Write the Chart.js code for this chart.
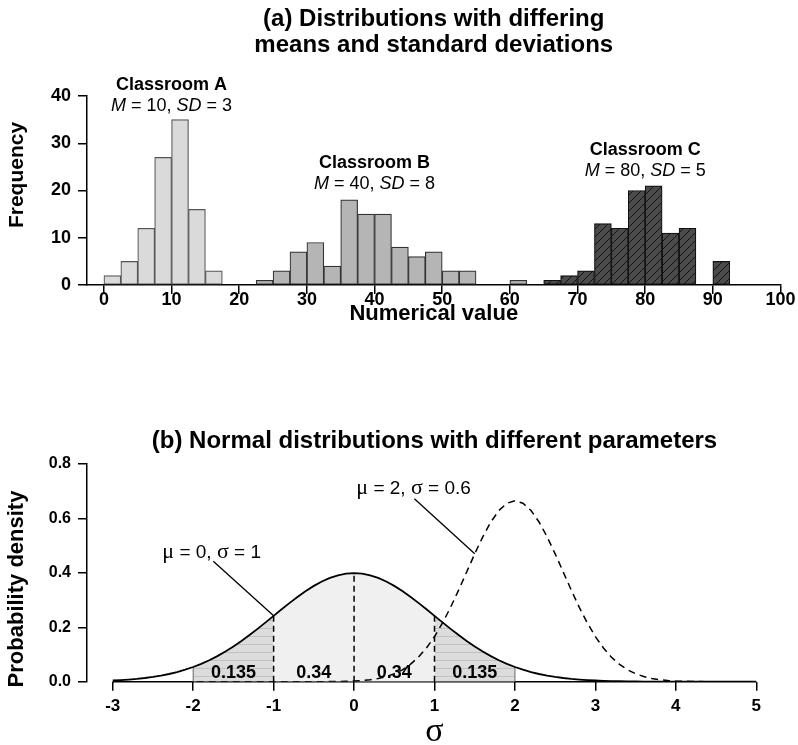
<!DOCTYPE html>
<html>
<head>
<meta charset="utf-8">
<script src="https://cdn.jsdelivr.net/npm/chart.js@4.4.1/dist/chart.umd.min.js"></script>
<style>
  html, body { margin: 0; padding: 0; background: #fff; }
  canvas { display: block; }
</style>
</head>
<body>
<canvas id="histChart" width="798" height="372"></canvas>
<canvas id="normalChart" width="798" height="373"></canvas>
<script>
// ---- (a) histograms: 2.5-wide bins from 0 to 100 ----
const binStarts = [
  0, 2.5, 5, 7.5, 10, 12.5, 15, 17.5, 20, 22.5,
  25, 27.5, 30, 32.5, 35, 37.5, 40, 42.5, 45, 47.5,
  50, 52.5, 55, 57.5, 60, 62.5, 65, 67.5, 70, 72.5,
  75, 77.5, 80, 82.5, 85, 87.5, 90, 92.5, 95, 97.5
];
const countsA = [
  2, 5, 12, 27, 35, 16, 3, 0, 0, 0,
  0, 0, 0, 0, 0, 0, 0, 0, 0, 0,
  0, 0, 0, 0, 0, 0, 0, 0, 0, 0,
  0, 0, 0, 0, 0, 0, 0, 0, 0, 0
];
const countsB = [
  0, 0, 0, 0, 0, 0, 0, 0, 0, 1,
  3, 7, 9, 4, 18, 15, 15, 8, 6, 7,
  3, 3, 0, 0, 1, 0, 0, 0, 0, 0,
  0, 0, 0, 0, 0, 0, 0, 0, 0, 0
];
const countsC = [
  0, 0, 0, 0, 0, 0, 0, 0, 0, 0,
  0, 0, 0, 0, 0, 0, 0, 0, 0, 0,
  0, 0, 0, 0, 0, 0, 1, 2, 3, 13,
  12, 20, 21, 11, 12, 0, 5, 0, 0, 0
];
const classNames = ['Classroom A', 'Classroom B', 'Classroom C'];
const classMeans = [10, 40, 80];
const classSDs = [3, 8, 5];
const classLabelY = [41.3, 24.8, 27.5];
const histXTicks = [0, 10, 20, 30, 40, 50, 60, 70, 80, 90, 100];
const histYTicks = [0, 10, 20, 30, 40];

// ---- (b) normal densities, sampled every 0.1 from -3 to 5 ----
const sigmaX = [
  -3, -2.9, -2.8, -2.7, -2.6, -2.5, -2.4, -2.3, -2.2, -2.1,
  -2, -1.9, -1.8, -1.7, -1.6, -1.5, -1.4, -1.3, -1.2, -1.1,
  -1, -0.9, -0.8, -0.7, -0.6, -0.5, -0.4, -0.3, -0.2, -0.1,
  0, 0.1, 0.2, 0.3, 0.4, 0.5, 0.6, 0.7, 0.8, 0.9,
  1, 1.1, 1.2, 1.3, 1.4, 1.5, 1.6, 1.7, 1.8, 1.9,
  2, 2.1, 2.2, 2.3, 2.4, 2.5, 2.6, 2.7, 2.8, 2.9,
  3, 3.1, 3.2, 3.3, 3.4, 3.5, 3.6, 3.7, 3.8, 3.9,
  4, 4.1, 4.2, 4.3, 4.4, 4.5, 4.6, 4.7, 4.8, 4.9,
  5
];
// mu = 0, sigma = 1
const densityStd = [
  0.0044, 0.0060, 0.0079, 0.0104, 0.0136, 0.0175, 0.0224, 0.0283, 0.0355, 0.0440,
  0.0540, 0.0656, 0.0790, 0.0940, 0.1109, 0.1295, 0.1497, 0.1714, 0.1942, 0.2179,
  0.2420, 0.2661, 0.2897, 0.3123, 0.3332, 0.3521, 0.3683, 0.3814, 0.3910, 0.3970,
  0.3989, 0.3970, 0.3910, 0.3814, 0.3683, 0.3521, 0.3332, 0.3123, 0.2897, 0.2661,
  0.2420, 0.2179, 0.1942, 0.1714, 0.1497, 0.1295, 0.1109, 0.0940, 0.0790, 0.0656,
  0.0540, 0.0440, 0.0355, 0.0283, 0.0224, 0.0175, 0.0136, 0.0104, 0.0079, 0.0060,
  0.0044, 0.0033, 0.0024, 0.0017, 0.0012, 0.0009, 0.0006, 0.0004, 0.0003, 0.0002,
  0.0001, 0.0001, 0, 0, 0, 0, 0, 0, 0, 0,
  0
];
// mu = 2, sigma = 0.6
const densityNarrow = [
  0, 0, 0, 0, 0, 0, 0, 0, 0, 0,
  0, 0, 0, 0, 0, 0, 0, 0, 0, 0,
  0, 0, 0, 0, 0, 0.0001, 0.0002, 0.0004, 0.0008, 0.0015,
  0.0026, 0.0044, 0.0074, 0.0120, 0.0190, 0.0292, 0.0437, 0.0636, 0.0900, 0.1239,
  0.1658, 0.2159, 0.2733, 0.3366, 0.4033, 0.4699, 0.5324, 0.5868, 0.6290, 0.6557,
  0.6649, 0.6557, 0.6290, 0.5868, 0.5324, 0.4699, 0.4033, 0.3366, 0.2733, 0.2159,
  0.1658, 0.1239, 0.0900, 0.0636, 0.0437, 0.0292, 0.0190, 0.0120, 0.0074, 0.0044,
  0.0026, 0.0015, 0.0008, 0.0004, 0.0002, 0.0001, 0, 0, 0, 0,
  0
];
const areaShares = ['0.135', '0.34', '0.34', '0.135'];
const areaCentres = [-1.5, -0.5, 0.5, 1.5];
const normalXTicks = [-3, -2, -1, 0, 1, 2, 3, 4, 5];
const normalYTicks = [0, 0.2, 0.4, 0.6, 0.8];
// curve captions: [mu, sigma], text anchor, leader start, x where the leader meets its curve
const curveNotes = [
  { mu: '0', sd: '1',   at: [-1.77, 0.455], from: [-1.75, 0.443], toX: -1,  curve: densityStd },
  { mu: '2', sd: '0.6', at: [0.74, 0.690],  from: [0.75, 0.672],  toX: 1.5, curve: densityNarrow }
];

const SANS = '"Liberation Sans", Arial, Helvetica, sans-serif';
const SERIF = '"Liberation Serif", "DejaVu Serif", serif';
Chart.defaults.color = '#000';
Chart.defaults.font.family = SANS;

function makePattern(bg, line, draw) {
  const c = document.createElement('canvas');
  c.width = 8; c.height = 8;
  const g = c.getContext('2d');
  g.fillStyle = bg;
  g.fillRect(0, 0, 8, 8);
  g.strokeStyle = line;
  g.lineWidth = 1;
  draw(g);
  return g.createPattern(c, 'repeat');
}

// draw a line of mixed-font text centred on cx
function drawRuns(ctx, runs, cx, baseline) {
  const widths = runs.map(r => { ctx.font = r.font; return ctx.measureText(r.text).width; });
  let x = cx - widths.reduce((a, b) => a + b, 0) / 2;
  ctx.textAlign = 'left';
  runs.forEach((r, i) => { ctx.font = r.font; ctx.fillText(r.text, x, baseline); x += widths[i]; });
}

function axisStyle(fontSize) {
  return {
    offset: false,
    grid: { offset: false, drawOnChartArea: false, drawTicks: true, tickLength: 9, color: '#000', lineWidth: 1.5 },
    border: { display: true, color: '#000', width: 1.5 },
    ticks: { color: '#000', font: { size: fontSize, weight: 'bold' }, maxRotation: 0, autoSkip: false }
  };
}

// ---------- (a) ----------
const diagHatch = makePattern('#4b4b4b', '#111', g => {
  g.beginPath();
  g.moveTo(-1, 9); g.lineTo(9, -1);
  g.moveTo(-1, 1); g.lineTo(1, -1);
  g.moveTo(7, 9); g.lineTo(9, 7);
  g.stroke();
});

function binPoints(counts) {
  return binStarts.map((s, i) => ({ x: s + 1.25, y: counts[i] })).filter(p => p.y > 0);
}

const histLabels = {
  id: 'histLabels',
  afterDraw(chart) {
    const { ctx, chartArea, scales: { x, y } } = chart;
    const cx = (chartArea.left + chartArea.right) / 2;
    ctx.save();
    ctx.fillStyle = '#000';
    ctx.textBaseline = 'alphabetic';
    ctx.textAlign = 'center';
    ctx.font = 'bold 24px ' + SANS;
    ctx.fillText('(a) Distributions with differing', cx, 26);
    ctx.fillText('means and standard deviations', cx, 52);

    ctx.font = 'bold 22px ' + SANS;
    ctx.fillText('Numerical value', cx, 320);
    ctx.save();
    ctx.translate(23, 175);
    ctx.rotate(-Math.PI / 2);
    ctx.font = 'bold 21px ' + SANS;
    ctx.fillText('Frequency', 0, 0);
    ctx.restore();

    classNames.forEach((name, i) => {
      const px = x.getPixelForValue(classMeans[i]);
      const py = y.getPixelForValue(classLabelY[i]);
      ctx.textAlign = 'center';
      ctx.font = 'bold 18px ' + SANS;
      ctx.fillText(name, px, py);
      const it = 'italic 18px ' + SANS, up = '18px ' + SANS;
      drawRuns(ctx, [
        { text: 'M', font: it },
        { text: ' = ' + classMeans[i] + ', ', font: up },
        { text: 'SD', font: it },
        { text: ' = ' + classSDs[i], font: up }
      ], px, py + 21);
    });
    ctx.restore();
  }
};

const histX = axisStyle(18);
const histY = axisStyle(18);
histX.ticks.padding = -5;
histY.ticks.padding = 7;

new Chart(document.getElementById('histChart'), {
  type: 'bar',
  data: {
    datasets: [
      { label: classNames[0], data: binPoints(countsA), backgroundColor: '#dadada', borderColor: '#555', borderWidth: 1.2 },
      { label: classNames[1], data: binPoints(countsB), backgroundColor: '#b5b5b5', borderColor: '#333', borderWidth: 1.2 },
      { label: classNames[2], data: binPoints(countsC), backgroundColor: diagHatch, borderColor: '#111', borderWidth: 1.2 }
    ]
  },
  options: {
    responsive: false,
    animation: false,
    devicePixelRatio: 1,
    events: [],
    layout: { padding: { top: 96, right: 17.5, left: 0, bottom: 0 } },
    datasets: { bar: { grouped: false, barPercentage: 1, categoryPercentage: 1, borderSkipped: false } },
    plugins: { legend: { display: false }, tooltip: { enabled: false } },
    scales: {
      x: Object.assign(histX, {
        type: 'linear', min: -2.5, max: 100,
        afterBuildTicks: s => { s.ticks = histXTicks.map(v => ({ value: v })); },
        afterFit: s => { s.height = 87; }
      }),
      y: Object.assign(histY, {
        min: 0, max: 40,
        afterBuildTicks: s => { s.ticks = histYTicks.map(v => ({ value: v })); },
        afterFit: s => { s.width = 87; }
      })
    }
  },
  plugins: [histLabels]
});

// ---------- (b) ----------
const stripes = makePattern('#dcdcdc', '#c2c2c2', g => {
  g.beginPath();
  g.moveTo(0, 0.5); g.lineTo(8, 0.5);
  g.stroke();
});

const idx = v => sigmaX.indexOf(v);
const segment = (ys, from, to) => sigmaX.slice(idx(from), idx(to) + 1).map((x, k) => ({ x, y: ys[idx(from) + k] }));
const drop = (xv, ys) => [{ x: xv, y: 0 }, { x: xv, y: ys[idx(xv)] }];
const none = 'rgba(0,0,0,0)';

const normalDatasets = [
  { data: segment(densityStd, -1, 1), fill: 'origin', backgroundColor: '#f0f0f0', borderColor: none, order: 10 },
  { data: segment(densityStd, -2, -1), fill: 'origin', backgroundColor: stripes, borderColor: none, order: 10 },
  { data: segment(densityStd, 1, 2), fill: 'origin', backgroundColor: stripes, borderColor: none, order: 10 },
  { data: drop(-2, densityStd), borderColor: '#666', borderWidth: 1, order: 6 },
  { data: drop(2, densityStd), borderColor: '#666', borderWidth: 1, order: 6 },
  { data: drop(-1, densityStd), borderColor: '#000', borderWidth: 1.5, borderDash: [6, 4], order: 5 },
  { data: drop(0, densityStd), borderColor: '#000', borderWidth: 1.5, borderDash: [6, 4], order: 5 },
  { data: drop(1, densityStd), borderColor: '#000', borderWidth: 1.5, borderDash: [6, 4], order: 5 }
];
curveNotes.forEach(n => {
  normalDatasets.push({
    data: [{ x: n.from[0], y: n.from[1] }, { x: n.toX, y: n.curve[idx(n.toX)] }],
    borderColor: '#000', borderWidth: 1.3, order: 4
  });
});
normalDatasets.push(
  { data: segment(densityStd, -3, 5), borderColor: '#000', borderWidth: 1.8, order: 1 },
  { data: segment(densityNarrow, -3, 5), borderColor: '#000', borderWidth: 1.5, borderDash: [7, 5], order: 0 }
);

const normalLabels = {
  id: 'normalLabels',
  beforeDatasetsDraw(chart) {
    const { ctx, scales: { x, y } } = chart;
    ctx.save();
    ctx.strokeStyle = '#000';
    ctx.lineWidth = 1.5;
    ctx.beginPath();
    ctx.moveTo(x.getPixelForValue(normalXTicks[0]), y.getPixelForValue(0));
    ctx.lineTo(x.getPixelForValue(normalXTicks[normalXTicks.length - 1]), y.getPixelForValue(0));
    ctx.stroke();
    ctx.restore();
  },
  afterDraw(chart) {
    const { ctx, chartArea, scales: { x, y } } = chart;
    const cx = (chartArea.left + chartArea.right) / 2;
    ctx.save();
    ctx.fillStyle = '#000';
    ctx.textBaseline = 'alphabetic';
    ctx.textAlign = 'center';
    ctx.font = 'bold 24px ' + SANS;
    ctx.fillText('(b) Normal distributions with different parameters', cx, 76);

    ctx.font = '34px ' + SERIF;
    ctx.fillText('σ', cx, 369);

    ctx.save();
    ctx.translate(23, 217);
    ctx.rotate(-Math.PI / 2);
    ctx.font = 'bold 22px ' + SANS;
    ctx.fillText('Probability density', 0, 0);
    ctx.restore();

    ctx.font = 'bold 18px ' + SANS;
    areaShares.forEach((t, i) => {
      ctx.fillText(t, x.getPixelForValue(areaCentres[i]), y.getPixelForValue(0.013));
    });

    const gk = '22px ' + SERIF, up = '19px ' + SANS;
    curveNotes.forEach(n => {
      drawRuns(ctx, [
        { text: 'μ', font: gk },
        { text: ' = ' + n.mu + ', ', font: up },
        { text: 'σ', font: gk },
        { text: ' = ' + n.sd, font: up }
      ], x.getPixelForValue(n.at[0]), y.getPixelForValue(n.at[1]));
    });
    ctx.restore();
  }
};

const normX = axisStyle(17);
const normY = axisStyle(16);
normX.border.display = false;
normX.ticks.padding = 5;
normY.ticks.padding = 7;

new Chart(document.getElementById('normalChart'), {
  type: 'line',
  data: { datasets: normalDatasets },
  options: {
    responsive: false,
    animation: false,
    devicePixelRatio: 1,
    events: [],
    layout: { padding: { top: 92, right: 16, left: 0, bottom: 0 } },
    elements: { point: { radius: 0 }, line: { tension: 0, fill: false } },
    plugins: { legend: { display: false }, tooltip: { enabled: false } },
    scales: {
      x: Object.assign(normX, {
        type: 'linear', min: -3.32, max: 5.32,
        afterBuildTicks: s => { s.ticks = normalXTicks.map(v => ({ value: v })); },
        afterFit: s => { s.height = 63.3; }
      }),
      y: Object.assign(normY, {
        min: 0, max: 0.8,
        afterBuildTicks: s => { s.ticks = normalYTicks.map(v => ({ value: v })); },
        afterFit: s => { s.width = 87; },
        ticks: Object.assign(normY.ticks, { callback: v => v.toFixed(1) })
      })
    }
  },
  plugins: [normalLabels]
});
</script>
</body>
</html>
